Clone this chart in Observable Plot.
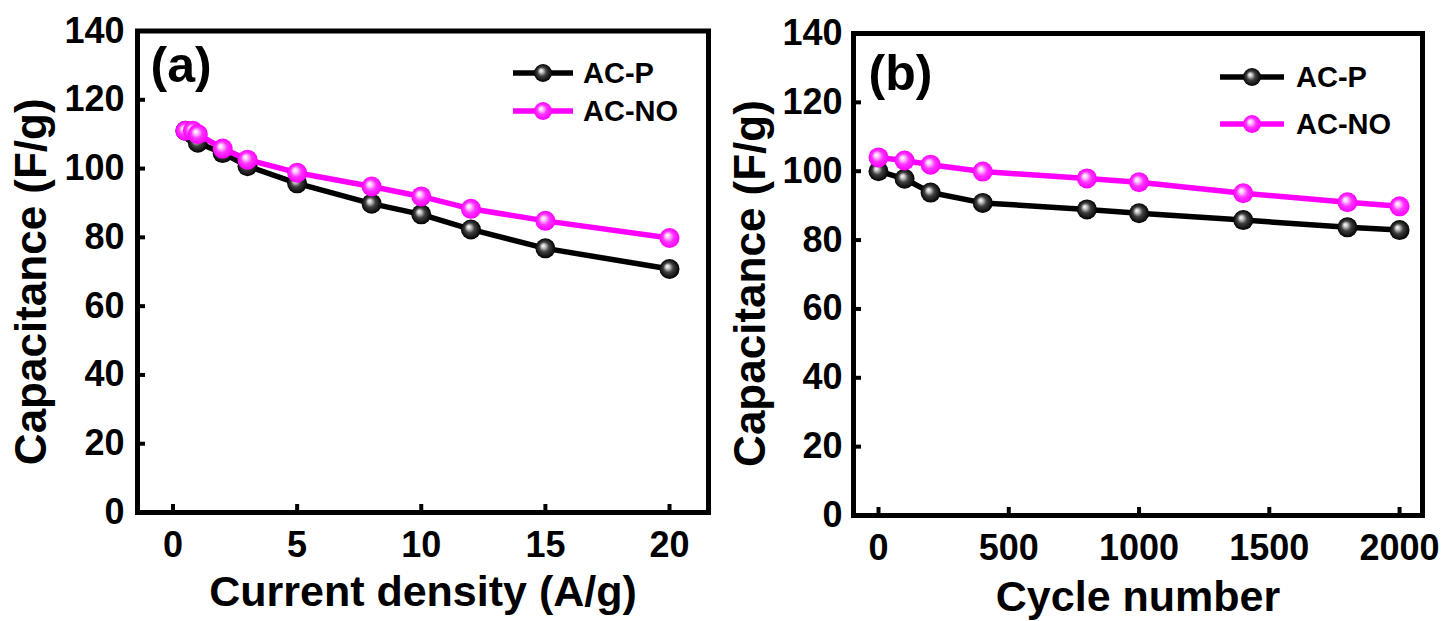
<!DOCTYPE html>
<html><head><meta charset="utf-8">
<script src="https://cdn.jsdelivr.net/npm/d3@7"></script>
<script src="https://cdn.jsdelivr.net/npm/@observablehq/plot@0.6"></script>
<style>
html,body{margin:0;padding:0;background:#fff;}
#wrap{position:relative;width:1446px;height:621px;overflow:hidden;background:#fff;}
.panel{position:absolute;top:0;}
</style></head><body><div id="wrap"></div>
<script>
// ---- data ----
const seriesNames = ["AC-P", "AC-NO"];
const seriesColors = ["#000000", "#ff00ff"];
const panelLabels = ["(a)", "(b)"];
const yLabel = "Capacitance (F/g)";
const xLabelA = "Current density (A/g)";
const xLabelB = "Cycle number";
const currentDensity = [0.5, 0.8, 1, 2, 3, 5, 8, 10, 12, 15, 20];
const capA_ACP  = [111, 110, 107.5, 104.5, 100.7, 95.7, 89.8, 86.7, 82.3, 76.8, 70.8];
const capA_ACNO = [111, 111, 110, 105.8, 102.6, 98.8, 94.8, 91.9, 88.3, 84.8, 79.8];
const cycleNumber = [0, 100, 200, 400, 800, 1000, 1400, 1800, 2000];
const capB_ACP  = [100, 97.8, 93.8, 90.8, 88.9, 87.8, 85.8, 83.7, 82.9];
const capB_ACNO = [104, 103.1, 101.9, 99.9, 97.9, 96.8, 93.6, 91, 89.8];
const xTicksA = [0, 5, 10, 15, 20];
const xTicksB = [0, 500, 1000, 1500, 2000];
const yTicks = [0, 20, 40, 60, 80, 100, 120, 140];

const FONT = "'Liberation Sans', Arial, Helvetica, sans-serif";

function makePanel(cfg) {
  const rows = [];
  cfg.series.forEach((vals, i) => vals.forEach((v, j) => rows.push({x: cfg.xs[j], y: v, s: seriesNames[i], i})));
  const marks = [];
  seriesNames.forEach((name, i) => {
    const d = rows.filter(r => r.i === i);
    marks.push(Plot.line(d, {x: "x", y: "y", stroke: seriesColors[i], strokeWidth: 5.5}));
    marks.push(Plot.dot(d, {x: "x", y: "y", r: 10, fill: `url(#${cfg.id}-g${i})`, stroke: "none"}));
  });
  const plot = Plot.plot({
    width: 723, height: 621,
    marginLeft: cfg.mL, marginRight: cfg.mR, marginTop: cfg.mT, marginBottom: cfg.mB,
    style: {fontFamily: FONT, fontWeight: "bold", color: "#000", background: "transparent", overflow: "visible"},
    x: {domain: cfg.xDomain},
    y: {domain: [0, 140]},
    marks: [
      Plot.axisX(cfg.xTicks, {anchor: "bottom", tickSize: -8, tickPadding: 27, strokeWidth: 4, fontSize: 36, label: null, tickFormat: d => String(d)}),
      Plot.axisY(yTicks, {anchor: "left", tickSize: -8, tickPadding: cfg.yPad, strokeWidth: 4, fontSize: 36, label: null, tickFormat: d => String(d)}),
      ...marks,
      Plot.frame({stroke: "#000", strokeWidth: 5}),
      Plot.text([cfg.xLabel], {frameAnchor: "bottom", dy: cfg.xTitleDy, lineAnchor: "bottom", textAnchor: "middle", fontSize: 43, fontWeight: "bold"}),
      Plot.text([yLabel], {frameAnchor: "left", rotate: -90, dx: cfg.yTitleDx, dy: cfg.yTitleDy, lineAnchor: "top", textAnchor: "middle", fontSize: 44, fontWeight: "bold"}),
      Plot.text([cfg.panelLabel], {frameAnchor: "top-left", dx: cfg.plDx, dy: cfg.plDy, textAnchor: "start", lineAnchor: "top", fontSize: 50, fontWeight: "bold"})
    ]
  });
  // gradients for glossy sphere markers
  const svg = d3.select(plot);
  const defs = svg.insert("defs", ":first-child");
  const stops = [
    [["0", "#ffffff"], ["0.2", "#c8c8c8"], ["0.5", "#404040"], ["1", "#000000"]],
    [["0", "#ffffff"], ["0.22", "#ffc8ff"], ["0.55", "#ff33ff"], ["1", "#ff00ff"]]
  ];
  seriesNames.forEach((n, i) => {
    const g = defs.append("radialGradient").attr("id", `${cfg.id}-g${i}`)
      .attr("cx", "0.5").attr("cy", "0.5").attr("r", "0.5").attr("fx", "0.38").attr("fy", "0.36");
    stops[i].forEach(([o, c]) => g.append("stop").attr("offset", o).attr("stop-color", c));
  });
  // legend
  const lg = svg.append("g").attr("font-family", FONT).attr("font-weight", "bold").attr("font-size", 29)
    .attr("text-anchor", "start");
  seriesNames.forEach((n, i) => {
    const y = cfg.legY[i];
    lg.append("line").attr("x1", cfg.legX[0]).attr("x2", cfg.legX[1]).attr("y1", y).attr("y2", y)
      .attr("stroke", seriesColors[i]).attr("stroke-width", 5.5);
    lg.append("circle").attr("cx", (cfg.legX[0] + cfg.legX[1]) / 2).attr("cy", y).attr("r", 9)
      .attr("fill", `url(#${cfg.id}-g${i})`);
    lg.append("text").attr("x", cfg.legX[2]).attr("y", y).attr("dy", "0.36em")
      .attr("text-anchor", "start").attr("fill", "#000").text(n);
  });
  const div = document.createElement("div");
  div.className = "panel";
  div.style.left = cfg.left + "px";
  div.appendChild(plot);
  document.getElementById("wrap").appendChild(div);
}

makePanel({
  id: "pa", left: 0, xs: currentDensity, series: [capA_ACP, capA_ACNO],
  xDomain: [-1.43, 21.57], xTicks: xTicksA, xLabel: xLabelA, panelLabel: panelLabels[0],
  mL: 137, mR: 15, mT: 30.5, mB: 109, yPad: 21,
  xTitleDy: 93, yTitleDx: -123, yTitleDy: 10, plDx: 13, plDy: 15,
  legX: [513, 573, 583], legY: [73, 111]
});
makePanel({
  id: "pb", left: 723, xs: cycleNumber, series: [capB_ACP, capB_ACNO],
  xDomain: [-96, 2088], xTicks: xTicksB, xLabel: xLabelB, panelLabel: panelLabels[1],
  mL: 130, mR: 24, mT: 33, mB: 106, yPad: 19,
  xTitleDy: 95, yTitleDx: -120, yTitleDy: 9, plDx: 15, plDy: 21,
  legX: [497, 561, 573], legY: [77, 124]
});
</script></body></html>
